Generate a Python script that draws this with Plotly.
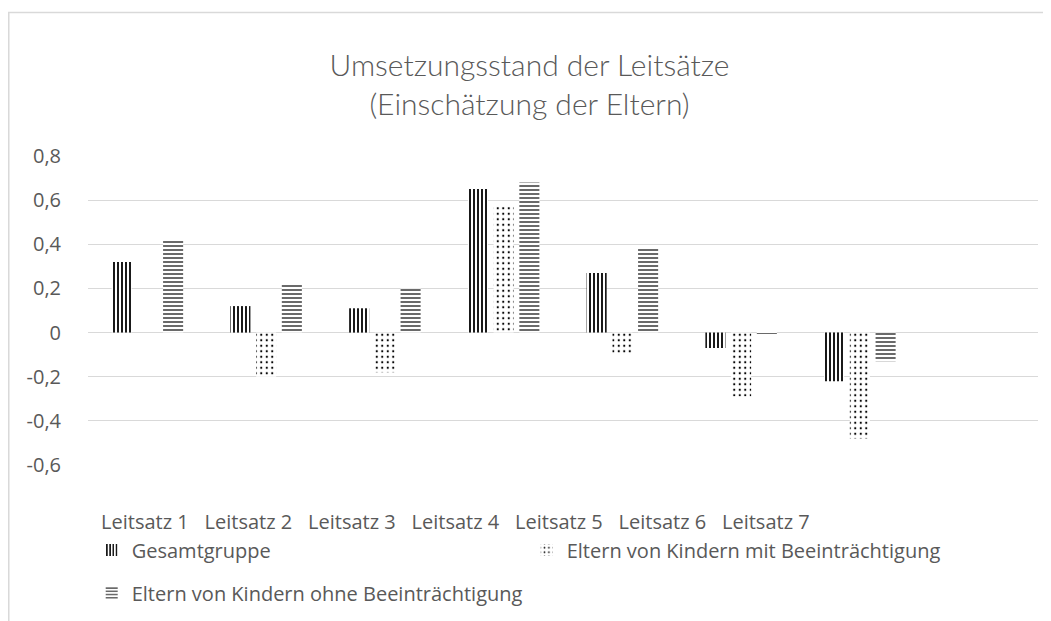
import plotly.graph_objects as go


LEITSAETZE = [
    "Leitsatz 1",
    "Leitsatz 2",
    "Leitsatz 3",
    "Leitsatz 4",
    "Leitsatz 5",
    "Leitsatz 6",
    "Leitsatz 7",
]

GESAMTGRUPPE = [0.32, 0.12, 0.11, 0.65, 0.27, -0.07, -0.22]
MIT_BEEINTRAECHTIGUNG = [0.0, -0.20, -0.18, 0.57, -0.10, -0.29, -0.48]
OHNE_BEEINTRAECHTIGUNG = [0.42, 0.22, 0.20, 0.68, 0.38, -0.005, -0.13]

Y_TICK_VALUES = [-0.6, -0.4, -0.2, 0, 0.2, 0.4, 0.6, 0.8]
Y_TICK_LABELS = ["-0,6", "-0,4", "-0,2", "0", "0,2", "0,4", "0,6", "0,8"]

TEXT_GREY = "#595959"
GRID_GREY = "#d9d9d9"
FONT = "Open Sans"
TITLE_FONT = "Lato"


fig = go.Figure()

fig.add_bar(
    name="Gesamtgruppe",
    x=LEITSAETZE,
    y=GESAMTGRUPPE,
    marker=dict(
        color="white",
        line=dict(width=0),
        pattern=dict(shape="|", fgcolor="black", bgcolor="white",
                     size=4, solidity=0.45),
    ),
    legend="legend",
)

fig.add_bar(
    name="Eltern von Kindern mit Beeinträchtigung",
    x=LEITSAETZE,
    y=MIT_BEEINTRAECHTIGUNG,
    marker=dict(
        color="white",
        line=dict(width=0),
        pattern=dict(shape=".", fgcolor="black", bgcolor="white",
                     size=5.5, solidity=0.12),
    ),
    legend="legend",
)

fig.add_bar(
    name="Eltern von Kindern ohne Beeinträchtigung",
    x=LEITSAETZE,
    y=OHNE_BEEINTRAECHTIGUNG,
    marker=dict(
        color="white",
        line=dict(width=0),
        pattern=dict(shape="-", fgcolor=TEXT_GREY, bgcolor="white",
                     size=4, solidity=0.45),
    ),
    legend="legend2",
)

# unsichtbare Spur, nur fuer die Beschriftung der Kategorien
fig.add_scatter(
    x=LEITSAETZE,
    y=[0] * len(LEITSAETZE),
    xaxis="x2",
    mode="markers",
    marker=dict(opacity=0),
    hoverinfo="skip",
    showlegend=False,
)

fig.update_layout(

    width=1043,
    height=613,

    template="none",

    paper_bgcolor="white",
    plot_bgcolor="white",

    font=dict(family=FONT, color=TEXT_GREY, size=20),

    margin=dict(l=80, r=13, t=148, b=156, autoexpand=False),

    title=dict(
        text="Umsetzungsstand der Leitsätze<br>(Einschätzung der Eltern)",
        x=0.5,
        xanchor="center",
        y=0.889,
        yanchor="top",
        font=dict(family=TITLE_FONT, size=30, color=TEXT_GREY, weight=300),
    ),

    barmode="group",
    bargap=0.35,
    bargroupgap=0.22,

    xaxis=dict(
        type="category",
        categoryarray=LEITSAETZE,
        range=[-0.5, 7.5],
        showticklabels=False,
        showgrid=False,
        showline=False,
        zeroline=False,
        ticks="",
    ),

    xaxis2=dict(
        type="category",
        categoryarray=LEITSAETZE,
        overlaying="x",
        side="bottom",
        anchor="y",
        range=[-0.55, 8.63],
        showgrid=False,
        showline=False,
        zeroline=False,
        ticks="",
        ticklabelstandoff=43,
        tickfont=dict(family=FONT, size=20, color=TEXT_GREY),
    ),

    yaxis=dict(
        range=[-0.6, 0.8],
        tickvals=Y_TICK_VALUES,
        ticktext=Y_TICK_LABELS,
        showgrid=True,
        gridcolor=GRID_GREY,
        gridwidth=1,
        zeroline=True,
        zerolinecolor=GRID_GREY,
        zerolinewidth=1,
        showline=False,
        ticks="",
        ticklabelstandoff=26,
        tickfont=dict(family=FONT, size=20, color=TEXT_GREY),
    ),

    legend=dict(
        orientation="h",
        x=0.0039,
        xanchor="left",
        y=-0.275,
        yanchor="middle",
        entrywidth=390,
        entrywidthmode="pixels",
        font=dict(family=FONT, size=20, color=TEXT_GREY),
        bgcolor="rgba(0,0,0,0)",
    ),

    legend2=dict(
        orientation="h",
        x=0.0039,
        xanchor="left",
        y=-0.414,
        yanchor="middle",
        font=dict(family=FONT, size=20, color=TEXT_GREY),
        bgcolor="rgba(0,0,0,0)",
    ),

    shapes=[
        dict(
            type="rect",
            xref="paper",
            yref="paper",
            x0=-0.0834,
            x1=1.5,
            y0=-1.0,
            y1=1.464,
            line=dict(color=GRID_GREY, width=1.5),
            fillcolor="rgba(0,0,0,0)",
            layer="below",
        )
    ],
)

fig.write_html("out.html")
